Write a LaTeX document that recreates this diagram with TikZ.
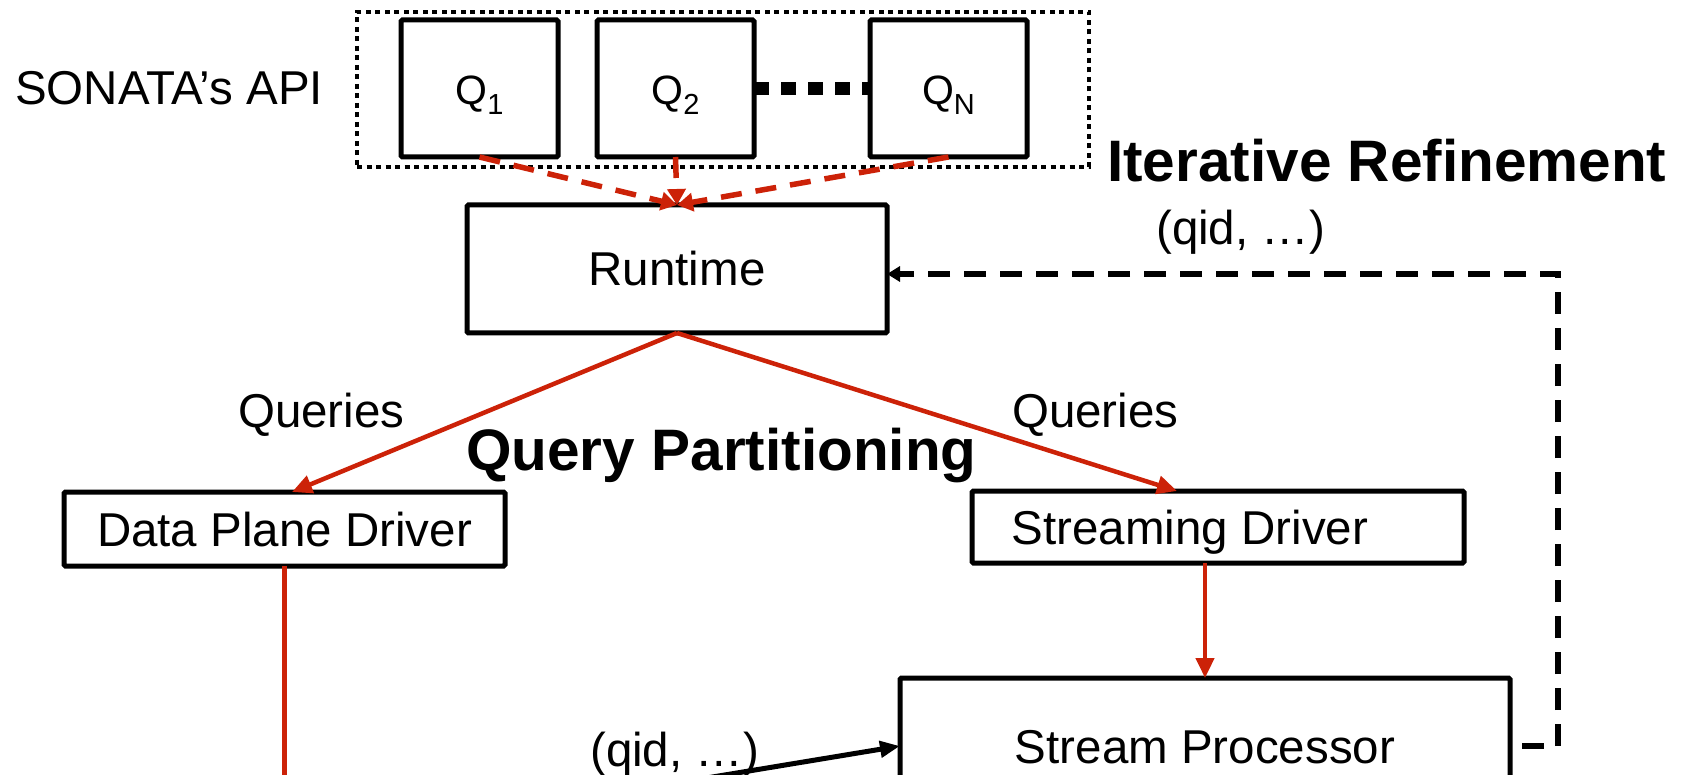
\documentclass[tikz,border=0pt]{standalone}
\usepackage{fontspec}
\setmainfont{Liberation Sans}
\usetikzlibrary{arrows.meta,calc}
\definecolor{flowred}{RGB}{204,34,8}
\newcommand{\qsub}[1]{\raisebox{-10pt}{\fontsize{29}{29}\selectfont #1}}
\begin{document}
\begin{tikzpicture}[x=1pt,y=-1pt,
  box/.style={draw, line width=5pt, rounded corners=1.5pt, inner sep=0pt, outer sep=0pt,
    fill=white, font=\fontsize{47.5}{57}\selectfont, text height=34pt, text depth=0pt},
  qbox/.style={box, minimum width=157pt, minimum height=137pt,
    font=\fontsize{41}{48}\selectfont, text height=33pt},
  frame/.style={draw, line width=4.5pt, dash pattern=on 5pt off 4.5pt, inner sep=0pt, outer sep=0pt},
  label/.style={inner sep=0pt, anchor=base west, font=\fontsize{47.5}{57}\selectfont},
  heading/.style={inner sep=0pt, anchor=base west, font=\fontsize{58.5}{70}\selectfont\bfseries},
  redline/.style={draw=flowred, line width=4.5pt},
  redarrow/.style={redline, -{Triangle[length=20pt,width=18pt]}},
  reddash/.style={draw=flowred, line width=5.5pt, dash pattern=on 21pt off 14pt,
    -{Triangle[length=16pt,width=18pt]}},
  feedback/.style={draw, line width=5.5pt, dash pattern=on 22pt off 14pt, dash phase=24pt,
    -{Triangle[length=13pt,width=15pt]}},
  inarrow/.style={draw, line width=5pt, -{Triangle[length=20pt,width=16pt]}}
]
\useasboundingbox (0,0) rectangle (1686,775);
\clip (0,0) rectangle (1686,775);

% query group
\node[frame, minimum width=732pt, minimum height=155pt] (api) at (723,89.5) {};
\node[label] (apilabel) at (15,105) {SONATA’s API};
\node[qbox] (q1) at (479.5,88.5) {Q\qsub{1}};
\node[qbox] (q2) at (675.5,88.5) {Q\qsub{2}};
\node[qbox] (qn) at (948.5,88.5) {Q\qsub{N}};
\draw[line width=13pt, dash pattern=on 15pt off 12pt] (q2.east) -- (qn.west);

% runtime and drivers
\node[box, minimum width=420pt, minimum height=128pt] (rt) at (677,269) {Runtime};
\node[box, minimum width=441pt, minimum height=74pt] (dpd) at (284.5,529) {Data Plane Driver};
\node[box, minimum width=492pt, minimum height=72pt] (sd) at (1218,527) {Streaming Driver\hspace*{56pt}};
\node[box, minimum width=610pt, minimum height=136pt] (sp) at (1205,746) {Stream Processor};

% text labels
\node[heading] (iter) at (1107,182) {Iterative Refinement};
\node[heading] (part) at (466,470) {Query Partitioning};
\node[label] (qleft) at (238,427) {Queries};
\node[label] (qright) at (1012,427) {Queries};
\node[label] (qidtop) at (1156,245) {(qid, …)};
\node[label] (qidbot) at (590,766) {(qid, …)};

% queries into the runtime
\draw[reddash] (q1.south) -- (rt.north);
\draw[reddash] (qn.south) -- (rt.north);
\draw[reddash] (q2.south) -- (rt.north);

% partitioning
\draw[redarrow] (rt.south) -- ([xshift=7.5pt]dpd.north);
\draw[redarrow] (rt.south) -- ([xshift=-41pt]sd.north);
\draw[redarrow] ([xshift=-13pt]sd.south) -- (sp.north);
\coordinate (dpdout) at (284.5,800);
\draw[redline] (dpd.south) -- (dpdout);

% tuples into the stream processor
\coordinate (tuplesin) at (640,789);
\draw[inarrow] (tuplesin) -- (sp.west);

% refinement loop back to the runtime
\draw[feedback] (sp.east) -- ++(48,0) |- ([yshift=-5pt]rt.east);
\end{tikzpicture}
\end{document}
